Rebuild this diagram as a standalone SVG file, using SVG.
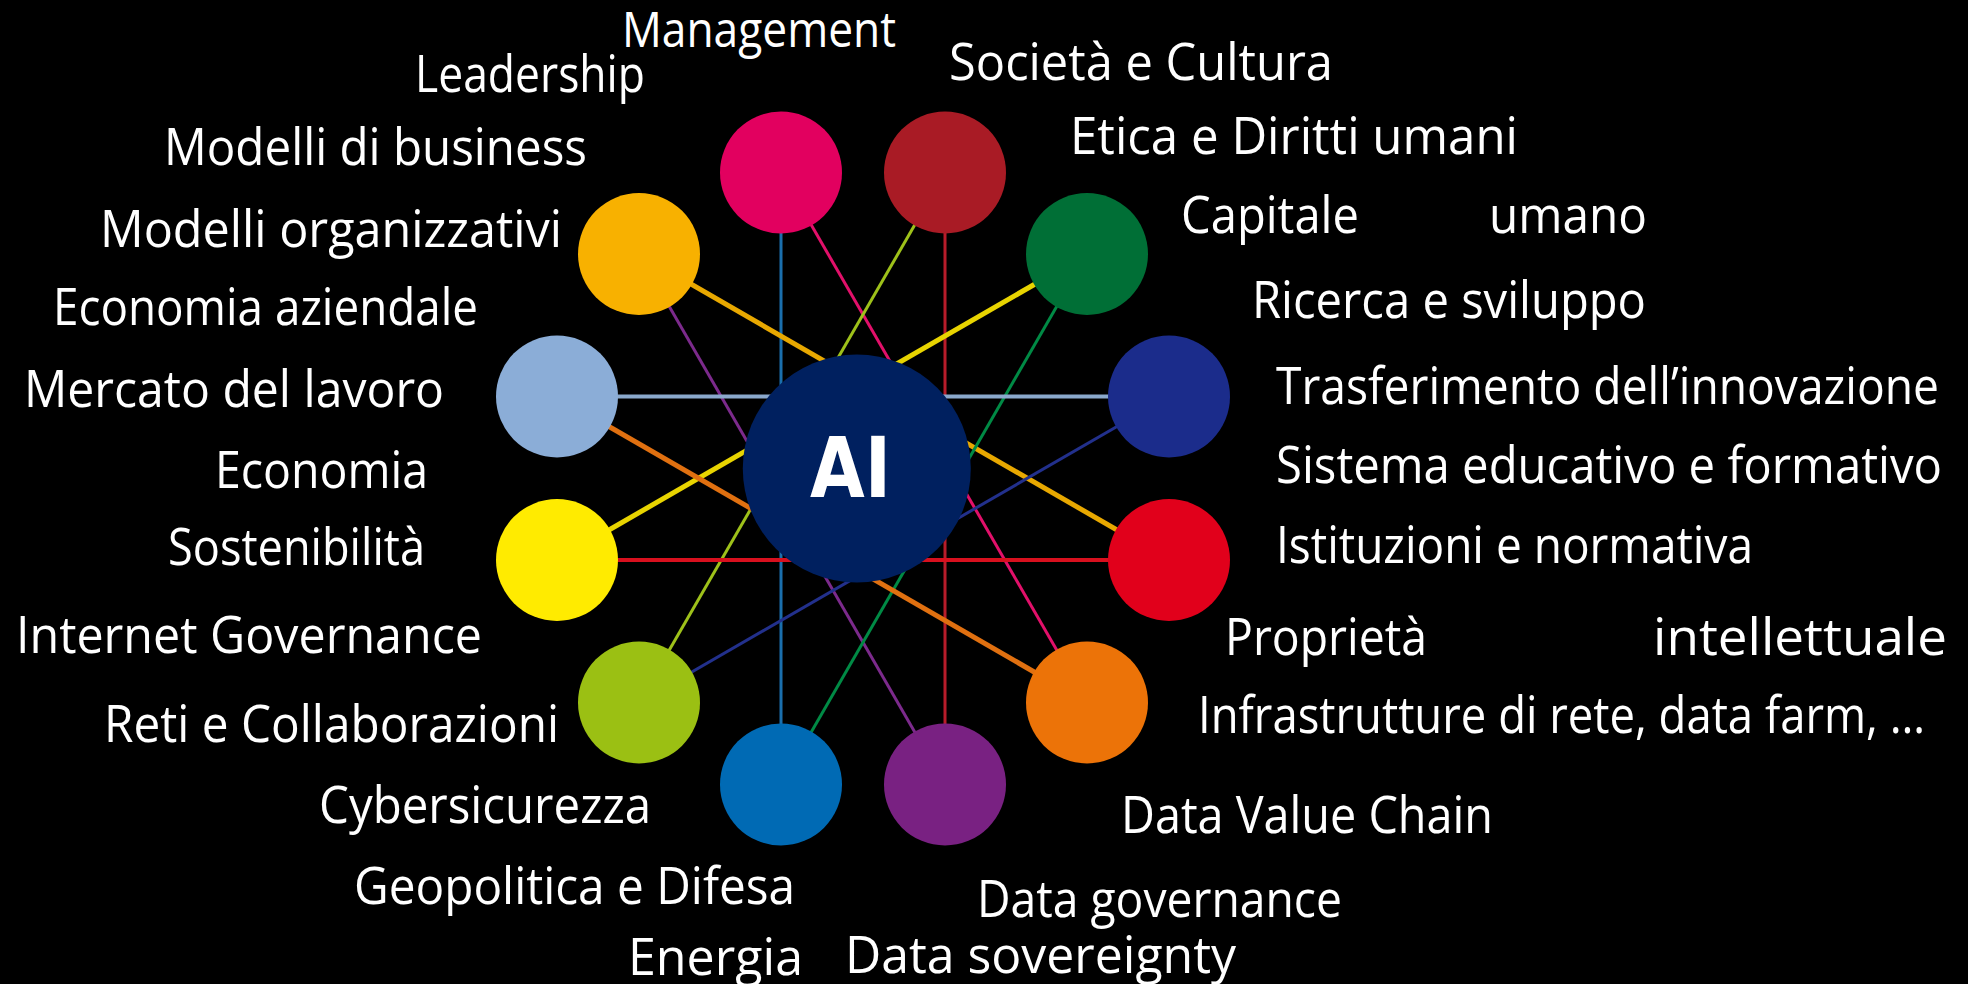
<svg xmlns="http://www.w3.org/2000/svg" width="1968" height="984" viewBox="0 0 1968 984">
<style>
.lbl{font-family:"Open Sans","DejaVu Sans",sans-serif;font-size:52px;fill:#ffffff}
.ai{font-family:"DejaVu Sans","Open Sans",sans-serif;font-size:84px;font-weight:bold;fill:#ffffff}
.ln{fill:none;stroke-linecap:butt}
.thin{stroke-width:3}
.mid{stroke-width:4}
.thick{stroke-width:5}
</style>
<rect x="0" y="0" width="1968" height="984" fill="#000000"/>
<g id="connectors">
<line class="ln thin" x1="781" y1="172.5" x2="781" y2="784.5" stroke="#1a6fad"/>
<line class="ln thin" x1="945" y1="172.5" x2="945" y2="784.5" stroke="#b81c2a"/>
<line class="ln thin" x1="781" y1="172.5" x2="1087" y2="702.5" stroke="#e2106a"/>
<line class="ln thin" x1="945" y1="172.5" x2="639" y2="702.5" stroke="#9ec11a"/>
<line class="ln thick" x1="639" y1="254" x2="1169" y2="560" stroke="#e8a800"/>
<line class="ln thin" x1="639" y1="254" x2="945" y2="784.5" stroke="#7c2a8c"/>
<line class="ln thick" x1="1087" y1="254" x2="557" y2="560" stroke="#e8d400"/>
<line class="ln thin" x1="1087" y1="254" x2="781" y2="784.5" stroke="#008a45"/>
<line class="ln mid" x1="557" y1="396.5" x2="1169" y2="396.5" stroke="#8aa8cc"/>
<line class="ln thick" x1="557" y1="396.5" x2="1087" y2="702.5" stroke="#e07010"/>
<line class="ln thin" x1="1169" y1="396.5" x2="639" y2="702.5" stroke="#22308c"/>
<line class="ln mid" x1="557" y1="560" x2="1169" y2="560" stroke="#d8101e"/>
</g>
<g id="n-management"><circle cx="781" cy="172.5" r="61" fill="#e2005f"/></g>
<g id="n-societa"><circle cx="945" cy="172.5" r="61" fill="#a91b25"/></g>
<g id="n-modelli"><circle cx="639" cy="254" r="61" fill="#f8b100"/></g>
<g id="n-capitale"><circle cx="1087" cy="254" r="61" fill="#006f36"/></g>
<g id="n-mercato"><circle cx="557" cy="396.5" r="61" fill="#8badd7"/></g>
<g id="n-trasferimento"><circle cx="1169" cy="396.5" r="61" fill="#1b2c8b"/></g>
<g id="n-sostenibilita"><circle cx="557" cy="560" r="61" fill="#ffeb00"/></g>
<g id="n-istituzioni"><circle cx="1169" cy="560" r="61" fill="#e1001b"/></g>
<g id="n-reti"><circle cx="639" cy="702.5" r="61" fill="#9bc013"/></g>
<g id="n-infrastrutture"><circle cx="1087" cy="702.5" r="61" fill="#ec7308"/></g>
<g id="n-cyber"><circle cx="781" cy="784.5" r="61" fill="#006ab4"/></g>
<g id="n-data"><circle cx="945" cy="784.5" r="61" fill="#792182"/></g>
<g id="n-ai">
<circle cx="856.8" cy="468.5" r="114" fill="#00205f"/>
<text class="ai" x="810" y="497" textLength="81" lengthAdjust="spacingAndGlyphs">AI</text>
</g>
<g id="labels">
<text class="lbl" x="622" y="47" textLength="274" lengthAdjust="spacingAndGlyphs" style="font-size:49px">Management</text>
<text class="lbl" x="415" y="92" textLength="230" lengthAdjust="spacingAndGlyphs">Leadership</text>
<text class="lbl" x="164" y="165" textLength="423" lengthAdjust="spacingAndGlyphs">Modelli di business</text>
<text class="lbl" x="100" y="247" textLength="462" lengthAdjust="spacingAndGlyphs">Modelli organizzativi</text>
<text class="lbl" x="53" y="325" textLength="425" lengthAdjust="spacingAndGlyphs">Economia aziendale</text>
<text class="lbl" x="24" y="407" textLength="420" lengthAdjust="spacingAndGlyphs">Mercato del lavoro</text>
<text class="lbl" x="215" y="488" textLength="213" lengthAdjust="spacingAndGlyphs">Economia</text>
<text class="lbl" x="168" y="565" textLength="257" lengthAdjust="spacingAndGlyphs">Sostenibilità</text>
<text class="lbl" x="16" y="653" textLength="466" lengthAdjust="spacingAndGlyphs">Internet Governance</text>
<text class="lbl" x="104" y="742" textLength="455" lengthAdjust="spacingAndGlyphs">Reti e Collaborazioni</text>
<text class="lbl" x="319" y="823" textLength="332" lengthAdjust="spacingAndGlyphs">Cybersicurezza</text>
<text class="lbl" x="354" y="904" textLength="441" lengthAdjust="spacingAndGlyphs">Geopolitica e Difesa</text>
<text class="lbl" x="628" y="975" textLength="175" lengthAdjust="spacingAndGlyphs">Energia</text>
<text class="lbl" x="845" y="973" textLength="391" lengthAdjust="spacingAndGlyphs">Data sovereignty</text>
<text class="lbl" x="977" y="917" textLength="365" lengthAdjust="spacingAndGlyphs">Data governance</text>
<text class="lbl" x="1121" y="833" textLength="372" lengthAdjust="spacingAndGlyphs">Data Value Chain</text>
<text class="lbl" x="1198" y="733" textLength="727" lengthAdjust="spacingAndGlyphs">Infrastrutture di rete, data farm, …</text>
<text class="lbl" y="655"><tspan x="1225" textLength="202" lengthAdjust="spacingAndGlyphs">Proprietà</tspan><tspan x="1653" textLength="294" lengthAdjust="spacingAndGlyphs">intellettuale</tspan></text>
<text class="lbl" x="1276" y="563" textLength="477" lengthAdjust="spacingAndGlyphs">Istituzioni e normativa</text>
<text class="lbl" x="1276" y="483" textLength="666" lengthAdjust="spacingAndGlyphs">Sistema educativo e formativo</text>
<text class="lbl" x="1276" y="404" textLength="663" lengthAdjust="spacingAndGlyphs">Trasferimento dell’innovazione</text>
<text class="lbl" x="1252" y="318" textLength="394" lengthAdjust="spacingAndGlyphs">Ricerca e sviluppo</text>
<text class="lbl" y="233"><tspan x="1181" textLength="178" lengthAdjust="spacingAndGlyphs">Capitale</tspan><tspan x="1489" textLength="158" lengthAdjust="spacingAndGlyphs">umano</tspan></text>
<text class="lbl" x="1070" y="154" textLength="448" lengthAdjust="spacingAndGlyphs">Etica e Diritti umani</text>
<text class="lbl" x="949" y="80" textLength="384" lengthAdjust="spacingAndGlyphs">Società e Cultura</text>
</g>
</svg>
